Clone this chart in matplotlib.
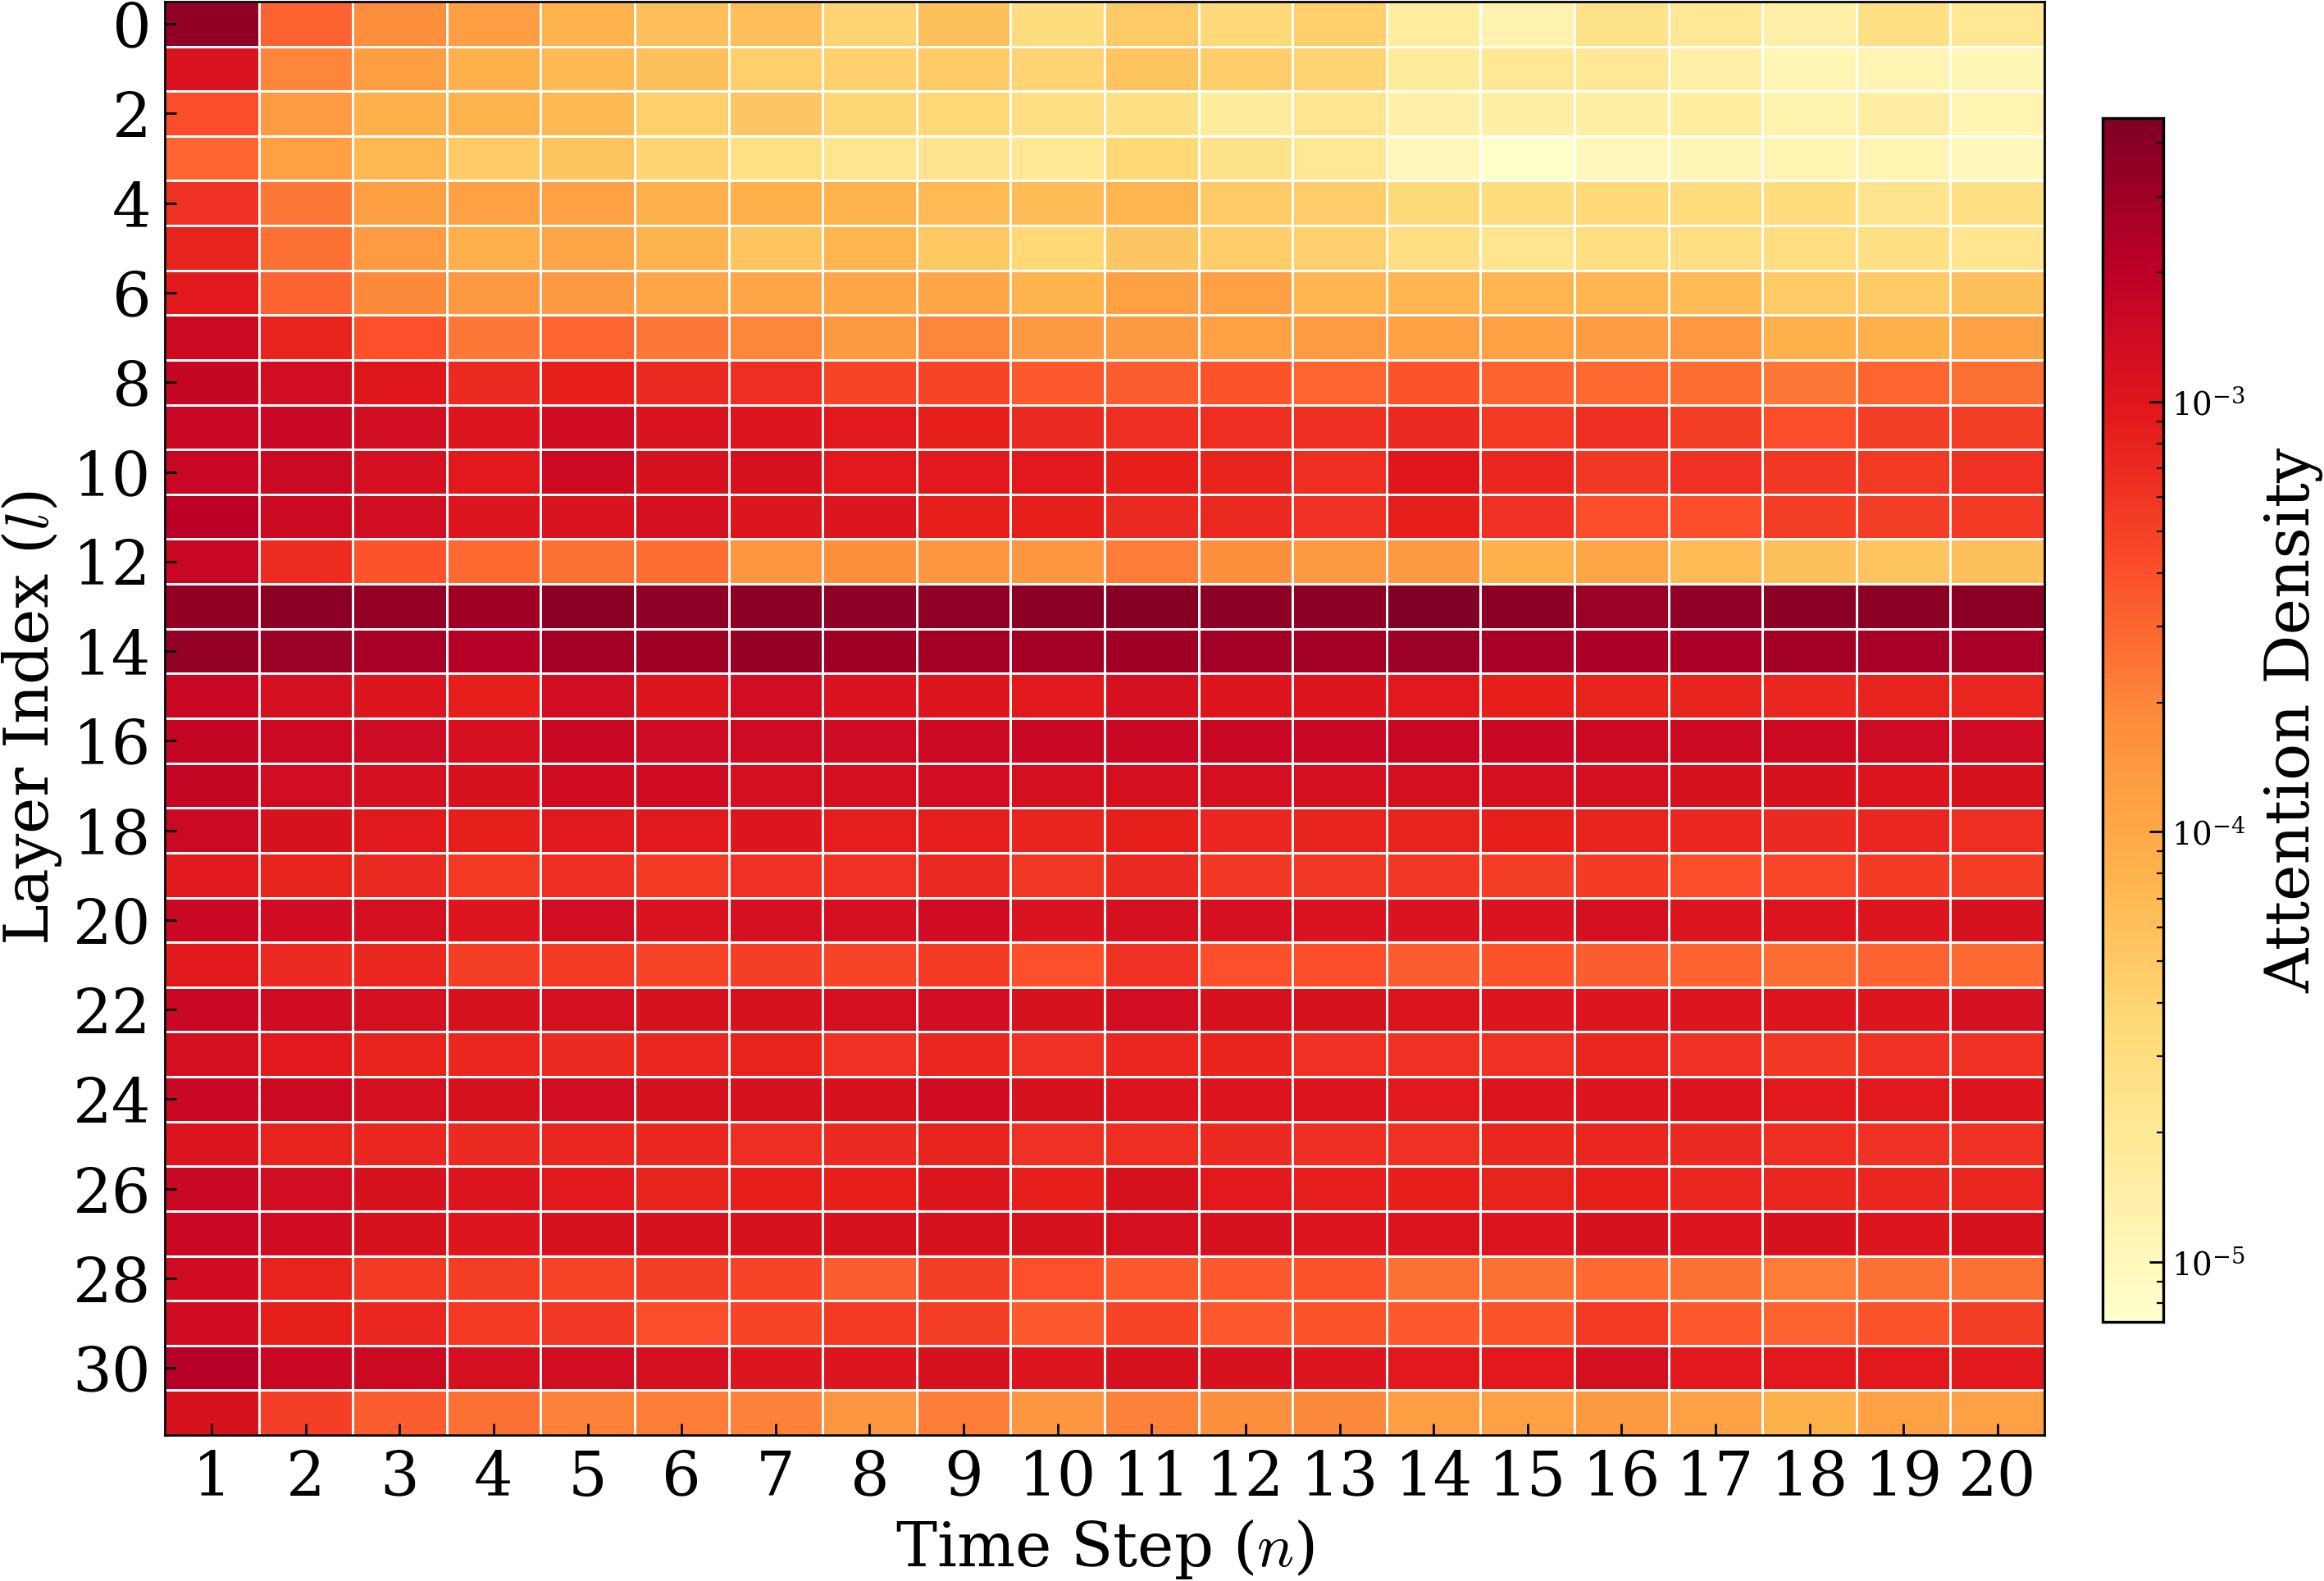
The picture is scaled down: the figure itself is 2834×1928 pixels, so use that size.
import numpy as np
import matplotlib
matplotlib.use("Agg")
import matplotlib.pyplot as plt
from matplotlib.colors import LogNorm

plt.rcParams['font.family'] = ['DejaVu Serif']
plt.rcParams['mathtext.fontset'] = 'cm'

time_steps = list(range(1, 21))
layers = list(range(32))

# log10 of attention density, rows = layers 0..31, columns = time steps 1..20
log10_density = [
    [-2.45, -3.50, -3.75, -3.90, -4.08, -4.20, -4.20, -4.40, -4.22, -4.50, -4.30, -4.45, -4.35, -4.78, -4.90, -4.60, -4.70, -4.85, -4.55, -4.68],
    [-2.95, -3.70, -3.90, -4.07, -4.15, -4.22, -4.35, -4.37, -4.30, -4.40, -4.25, -4.32, -4.40, -4.75, -4.70, -4.70, -4.85, -4.95, -4.93, -4.95],
    [-3.38, -3.87, -4.07, -4.08, -4.15, -4.35, -4.27, -4.42, -4.43, -4.53, -4.55, -4.75, -4.65, -4.85, -4.83, -4.83, -4.78, -4.88, -4.80, -4.93],
    [-3.52, -3.93, -4.14, -4.30, -4.25, -4.40, -4.57, -4.65, -4.63, -4.68, -4.43, -4.60, -4.68, -4.98, -5.14, -4.98, -4.95, -4.93, -4.93, -5.00],
    [-3.20, -3.62, -3.90, -3.93, -3.93, -4.07, -4.07, -4.08, -4.16, -4.18, -4.12, -4.30, -4.32, -4.47, -4.50, -4.46, -4.48, -4.50, -4.63, -4.55],
    [-3.10, -3.58, -3.87, -4.06, -3.98, -4.11, -4.25, -4.12, -4.28, -4.43, -4.27, -4.32, -4.37, -4.53, -4.65, -4.52, -4.53, -4.52, -4.55, -4.65],
    [-3.03, -3.50, -3.72, -3.85, -3.85, -3.98, -3.98, -3.98, -3.98, -4.10, -3.93, -3.93, -4.13, -4.12, -4.12, -4.12, -4.16, -4.30, -4.30, -4.22],
    [-2.83, -3.10, -3.40, -3.62, -3.52, -3.62, -3.70, -3.85, -3.70, -3.85, -3.85, -3.93, -3.87, -3.93, -3.93, -3.88, -3.83, -4.07, -4.07, -3.93],
    [-2.77, -2.87, -3.00, -3.15, -3.08, -3.15, -3.18, -3.32, -3.32, -3.45, -3.47, -3.42, -3.52, -3.42, -3.50, -3.55, -3.57, -3.62, -3.52, -3.58],
    [-2.78, -2.80, -2.88, -2.98, -2.86, -2.95, -2.98, -3.02, -3.08, -3.15, -3.18, -3.18, -3.18, -3.15, -3.25, -3.18, -3.28, -3.38, -3.28, -3.28],
    [-2.78, -2.82, -2.90, -3.02, -2.83, -2.94, -2.93, -3.02, -3.02, -3.02, -3.08, -3.10, -3.18, -3.00, -3.13, -3.24, -3.20, -3.24, -3.25, -3.20],
    [-2.70, -2.83, -2.88, -2.98, -2.95, -2.89, -2.98, -2.98, -3.08, -3.08, -3.14, -3.14, -3.20, -3.08, -3.20, -3.38, -3.38, -3.28, -3.28, -3.25],
    [-2.78, -3.17, -3.42, -3.55, -3.58, -3.57, -3.82, -3.77, -3.82, -3.82, -3.65, -3.77, -3.86, -3.86, -4.07, -3.98, -4.16, -4.22, -4.25, -4.22],
    [-2.45, -2.42, -2.47, -2.53, -2.42, -2.43, -2.42, -2.43, -2.44, -2.42, -2.38, -2.42, -2.42, -2.34, -2.42, -2.50, -2.44, -2.42, -2.42, -2.42],
    [-2.47, -2.50, -2.58, -2.66, -2.55, -2.52, -2.48, -2.53, -2.55, -2.55, -2.53, -2.54, -2.54, -2.51, -2.57, -2.60, -2.60, -2.54, -2.57, -2.57],
    [-2.80, -2.91, -2.98, -3.08, -2.88, -2.98, -2.88, -2.95, -2.98, -3.03, -2.91, -2.98, -2.98, -3.02, -3.08, -3.10, -3.10, -3.12, -3.10, -3.12],
    [-2.77, -2.83, -2.84, -2.90, -2.80, -2.84, -2.84, -2.84, -2.83, -2.81, -2.80, -2.78, -2.80, -2.78, -2.81, -2.83, -2.83, -2.83, -2.84, -2.84],
    [-2.77, -2.87, -2.90, -2.94, -2.86, -2.86, -2.90, -2.90, -2.88, -2.90, -2.90, -2.90, -2.90, -2.90, -2.90, -2.90, -2.94, -2.94, -2.97, -2.94],
    [-2.82, -2.94, -3.02, -3.08, -3.02, -3.02, -2.98, -3.07, -3.07, -3.10, -3.08, -3.12, -3.10, -3.10, -3.08, -3.10, -3.12, -3.16, -3.12, -3.18],
    [-3.02, -3.10, -3.15, -3.25, -3.18, -3.25, -3.20, -3.20, -3.16, -3.24, -3.14, -3.24, -3.24, -3.24, -3.29, -3.26, -3.38, -3.33, -3.26, -3.29],
    [-2.80, -2.86, -2.90, -2.98, -2.88, -2.95, -2.91, -2.91, -2.86, -2.95, -2.91, -2.91, -2.95, -2.95, -2.95, -2.91, -2.98, -2.97, -2.98, -2.94],
    [-3.02, -3.15, -3.13, -3.28, -3.25, -3.32, -3.29, -3.32, -3.26, -3.40, -3.20, -3.40, -3.38, -3.47, -3.42, -3.47, -3.50, -3.57, -3.50, -3.55],
    [-2.80, -2.86, -2.90, -2.94, -2.90, -2.94, -2.94, -2.90, -2.88, -2.94, -2.87, -2.94, -2.94, -2.97, -2.98, -2.98, -2.98, -2.98, -2.98, -2.91],
    [-2.90, -3.02, -3.10, -3.13, -3.16, -3.13, -3.10, -3.20, -3.13, -3.20, -3.13, -3.11, -3.20, -3.20, -3.20, -3.12, -3.20, -3.24, -3.20, -3.20],
    [-2.80, -2.83, -2.90, -2.94, -2.88, -2.94, -2.94, -2.94, -2.86, -2.94, -2.97, -2.97, -2.97, -3.02, -2.97, -2.98, -2.98, -3.02, -3.02, -2.98],
    [-2.98, -3.10, -3.13, -3.16, -3.13, -3.13, -3.18, -3.16, -3.10, -3.20, -3.18, -3.16, -3.18, -3.20, -3.13, -3.13, -3.16, -3.18, -3.20, -3.20],
    [-2.80, -2.88, -2.94, -2.98, -3.02, -3.10, -3.08, -3.08, -2.98, -3.08, -2.94, -3.02, -3.07, -3.08, -3.10, -3.08, -3.13, -3.13, -3.13, -3.13],
    [-2.80, -2.86, -2.94, -2.98, -2.94, -2.94, -2.94, -2.94, -2.94, -2.94, -2.90, -2.94, -2.97, -2.97, -2.97, -2.94, -2.98, -2.94, -2.98, -2.94],
    [-2.86, -3.10, -3.25, -3.28, -3.32, -3.28, -3.32, -3.47, -3.28, -3.40, -3.45, -3.45, -3.42, -3.58, -3.58, -3.55, -3.58, -3.65, -3.58, -3.58],
    [-2.86, -3.08, -3.13, -3.25, -3.24, -3.38, -3.32, -3.25, -3.28, -3.45, -3.32, -3.45, -3.42, -3.45, -3.42, -3.25, -3.45, -3.50, -3.42, -3.29],
    [-2.66, -2.80, -2.83, -2.90, -2.88, -2.90, -2.98, -2.98, -2.94, -2.98, -2.94, -2.94, -2.98, -3.02, -3.02, -2.90, -3.02, -3.02, -3.02, -3.02],
    [-2.94, -3.29, -3.47, -3.58, -3.68, -3.65, -3.68, -3.82, -3.65, -3.82, -3.68, -3.77, -3.72, -3.90, -3.93, -3.86, -3.93, -4.07, -3.93, -3.93],
]

density = 10.0 ** np.array(log10_density)

fig = plt.figure(figsize=(14.17, 9.64), dpi=200)
ax = fig.add_axes([0.0709, 0.0923, 0.8088, 0.9067])
cax = fig.add_axes([0.9047, 0.1639, 0.0261, 0.7614])

x_edges = np.arange(len(time_steps) + 1) + 0.5
y_edges = np.arange(len(layers) + 1) - 0.5
norm = LogNorm(vmin=density.min(), vmax=density.max())
mesh = ax.pcolormesh(x_edges, y_edges, density, cmap='YlOrRd', norm=norm,
                     edgecolors='white', linewidth=1.0)
ax.set_xlim(x_edges[0], x_edges[-1])
ax.set_ylim(y_edges[-1], y_edges[0])

ax.set_xticks(time_steps)
ax.set_xticklabels([str(t) for t in time_steps])
ax.set_yticks(layers[::2])
ax.set_yticklabels([str(l) for l in layers[::2]])
ax.tick_params(axis='both', direction='in', length=5, width=1.0, labelsize=27, pad=6)
for sp in ax.spines.values():
    sp.set_linewidth(1.0)

ax.set_xlabel('Time Step ($n$)', fontsize=27, labelpad=4)
ax.set_ylabel('Layer Index ($l$)', fontsize=27, labelpad=4)

cb = fig.colorbar(mesh, cax=cax)
cb.ax.tick_params(which='both', direction='in', labelsize=14)
cb.ax.tick_params(which='major', length=6, width=1.0)
cb.ax.tick_params(which='minor', length=3, width=0.8)
cb.outline.set_linewidth(1.2)
cb.set_label('Attention Density', fontsize=27, labelpad=8)

fig.savefig('out.png', dpi=200)
